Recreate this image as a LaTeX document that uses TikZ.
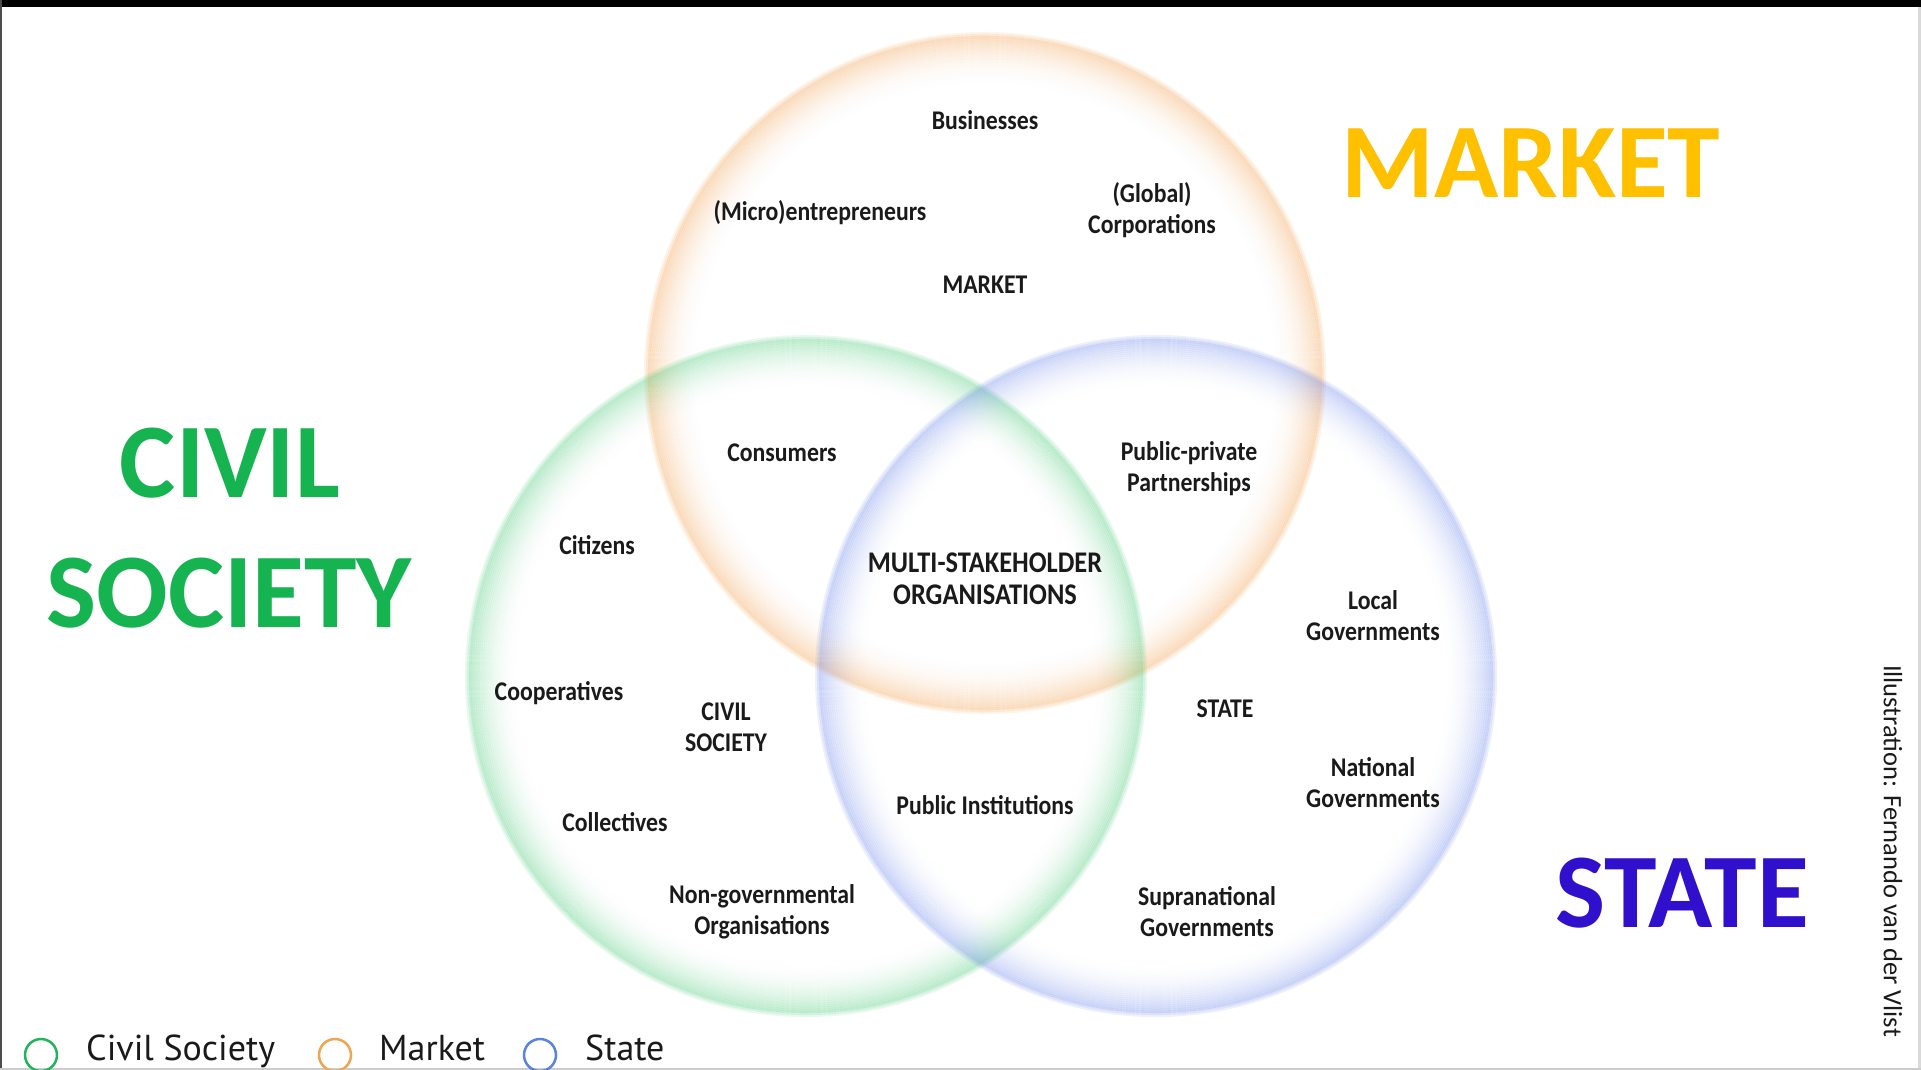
\documentclass[tikz,border=0pt]{standalone}
\usepackage{fontspec}
\setmainfont{Carlito}
\newfontfamily\labfont[FakeStretch=0.88]{Carlito}
\newfontfamily\legfont{PT Sans}
\definecolor{csgreen}{RGB}{22,180,80}
\definecolor{mkgold}{RGB}{255,192,0}
\definecolor{stblue}{RGB}{48,16,204}
\definecolor{ringG}{RGB}{60,200,110}
\definecolor{ringO}{RGB}{245,165,85}
\definecolor{ringB}{RGB}{100,130,235}
\definecolor{legG}{RGB}{34,180,90}
\definecolor{legO}{RGB}{240,165,80}
\definecolor{legB}{RGB}{90,130,225}
\definecolor{txt}{RGB}{26,26,26}
\tikzset{
  lab/.style={font=\labfont\bfseries\fontsize{27}{31}\selectfont, text=txt, align=center, inner sep=0pt},
  big/.style={font=\bfseries\fontsize{106}{130}\selectfont, anchor=base, inner sep=0pt},
  legtxt/.style={font=\legfont\fontsize{36}{36}\selectfont, text=txt, anchor=base west, inner sep=0pt},
  legring/.style={line width=2.5pt},
}
% #1 centre, #2 colour, #3 radius, #4 peak opacity
\newcommand\vennring[4]{%
  \foreach \k [evaluate=\k as \op using {#4*(1-\k/24)^2}, evaluate=\k as \rr using {#3-3-2*\k}] in {0,...,23}{
    \draw[#2, line width=2.1pt, draw opacity=\op] #1 circle (\rr pt);
  }
  \foreach \k [evaluate=\k as \op using {#4*(1-\k/3)}, evaluate=\k as \rr using {#3-3+2*\k}] in {1,2}{
    \draw[#2, line width=2.1pt, draw opacity=\op] #1 circle (\rr pt);
  }
}
\begin{document}
\begin{tikzpicture}[x=1pt,y=-1pt]
\useasboundingbox (0,0) rectangle (1921,1070);
\fill[white] (0,0) rectangle (1921,1070);
% frame
\fill[black] (0,0) rectangle (1921,7);
\fill[black!70] (0,0) rectangle (1.5,1070);
\fill[black!15] (1918,7) rectangle (1921,1070);
\fill[black!20] (0,1068) rectangle (1921,1070);

% circle centres
\coordinate (mk) at (985,373);
\coordinate (cs) at (806,676);
\coordinate (st) at (1156,676);

\vennring{(mk)}{ringO}{339}{0.36}
\vennring{(cs)}{ringG}{339}{0.32}
\vennring{(st)}{ringB}{339}{0.32}

% big titles
\node[big, text=mkgold] (tMarket) at (1531,197) {MARKET};
\node[big, text=csgreen] (tCivil) at (230,497) {CIVIL};
\node[big, text=csgreen] (tSociety) at (229,627) {SOCIETY};
\node[big, text=stblue] (tState) at (1682,927) {STATE};

% labels
\node[lab] (business) at (985,120) {Businesses};
\node[lab] (micro) at (820,213) {(Micro)entrepreneurs};
\node[lab] (global) at (1152,210) {(Global)\\Corporations};
\node[lab] (market) at (985,285) {MARKET};
\node[lab] (consumers) at (782,453) {Consumers};
\node[lab] (ppp) at (1189,469) {Public-private\\Partnerships};
\node[lab] (citizens) at (597,545) {Citizens};
\node[lab, font=\labfont\bfseries\fontsize{30}{32}\selectfont] (multi) at (985,579) {MULTI-STAKEHOLDER\\ORGANISATIONS};
\node[lab] (local) at (1373,616) {Local\\Governments};
\node[lab] (coop) at (559,693) {Cooperatives};
\node[lab] (civil) at (726,727) {CIVIL\\SOCIETY};
\node[lab] (state) at (1225,709) {STATE};
\node[lab] (national) at (1373,783) {National\\Governments};
\node[lab] (public) at (985,805) {Public Institutions};
\node[lab] (collect) at (615,822) {Collectives};
\node[lab] (ngo) at (762,912) {Non-governmental\\Organisations};
\node[lab] (supra) at (1207,912) {Supranational\\Governments};

% credit
\node[rotate=-90, font=\fontsize{26.5}{26.5}\selectfont, text=txt, inner sep=0pt] (credit) at (1893,851) {Illustration: Fernando van der Vlist};

% legend
\draw[legring, legG] (41,1055) circle (16pt);
\node[legtxt] (lgC) at (86,1060) {Civil Society};
\draw[legring, legO] (335,1055) circle (16pt);
\node[legtxt] (lgM) at (379,1060) {Market};
\draw[legring, legB] (540,1055) circle (16pt);
\node[legtxt] (lgS) at (585,1060) {State};
\end{tikzpicture}
\end{document}
